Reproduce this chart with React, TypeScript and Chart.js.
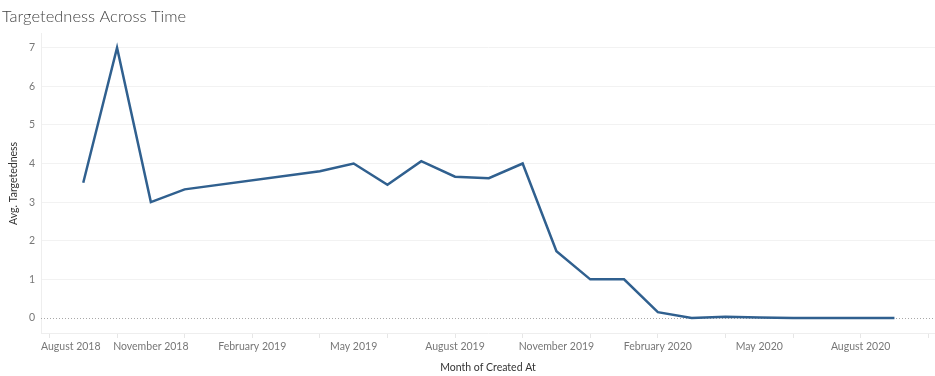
import React, { useEffect, useRef } from "react";
import { Chart, registerables } from "chart.js";

Chart.register(...registerables);

// Month index 0 = August 2018
const FIRST_YEAR = 2018;
const FIRST_MONTH = 8;

const months = [
  "2018-09", "2018-10", "2018-11", "2018-12",
  "2019-04", "2019-05", "2019-06", "2019-07", "2019-08", "2019-09", "2019-10", "2019-11", "2019-12",
  "2020-01", "2020-02", "2020-03", "2020-04", "2020-05", "2020-06", "2020-07", "2020-08", "2020-09",
];
const avgTargetedness = [
  3.5, 7.0, 3.0, 3.33,
  3.8, 4.0, 3.45, 4.06, 3.66, 3.62, 4.0, 1.73, 1.0,
  1.0, 0.15, 0.0, 0.03, 0.01, 0.0, 0.0, 0.0, 0.0,
];

const xLabelMonths = ["2018-08", "2018-11", "2019-02", "2019-05", "2019-08", "2019-11", "2020-02", "2020-05", "2020-08"];
const xTickLabels = [
  "August 2018", "November 2018", "February 2019", "May 2019", "August 2019",
  "November 2019", "February 2020", "May 2020", "August 2020",
];
const yTicks = [0, 1, 2, 3, 4, 5, 6, 7];

const X_MIN = -0.25;
const X_MAX = 26.2;
const Y_MIN = -0.39;
const Y_MAX = 7.36;

const FONT = "Lato, 'Open Sans', sans-serif";

function monthIndex(s: string): number {
  const [y, m] = s.split("-").map(Number);
  return (y - FIRST_YEAR) * 12 + (m - FIRST_MONTH);
}

const labelByIndex: Record<number, string> = {};
xLabelMonths.forEach((m, i) => {
  labelByIndex[monthIndex(m)] = xTickLabels[i];
});

const zeroLinePlugin = {
  id: "zeroLine",
  beforeDatasetsDraw(chart: any) {
    const { ctx, chartArea, scales } = chart;
    const y = Math.round(scales.y.getPixelForValue(0)) + 0.5;
    ctx.save();
    ctx.strokeStyle = "#a8a8a8";
    ctx.lineWidth = 1;
    ctx.setLineDash([1, 2]);
    ctx.beginPath();
    ctx.moveTo(chartArea.left, y);
    ctx.lineTo(chartArea.right, y);
    ctx.stroke();
    ctx.restore();
  },
};

export default function App() {
  const canvasRef = useRef<HTMLCanvasElement | null>(null);

  useEffect(() => {
    if (!canvasRef.current) return;
    const points = months.map((m, i) => ({ x: monthIndex(m), y: avgTargetedness[i] }));
    const chart = new Chart(canvasRef.current, {
      type: "line",
      data: {
        datasets: [
          {
            label: "Avg. Targetedness",
            data: points,
            borderColor: "#30608f",
            borderWidth: 2.5,
            pointRadius: 0,
            tension: 0,
            fill: false,
          },
        ],
      },
      options: {
        animation: false,
        responsive: false,
        layout: { padding: { left: 2, top: 2, right: 0, bottom: 2 } },
        plugins: {
          legend: { display: false },
          tooltip: { enabled: false },
          title: {
            display: true,
            text: "Targetedness Across Time",
            align: "start",
            color: "#444",
            font: { family: FONT, size: 16.5, weight: "300" },
            padding: { top: 5, bottom: 7 },
          },
        },
        scales: {
          x: {
            type: "linear",
            min: X_MIN,
            max: X_MAX,
            afterBuildTicks(scale: any) {
              const t = [{ value: X_MIN }];
              for (let i = 0; i <= 26; i++) t.push({ value: i });
              scale.ticks = t;
            },
            afterFit(scale: any) {
              scale.height = 41;
            },
            ticks: {
              autoSkip: false,
              maxRotation: 0,
              align: "inner",
              padding: 2,
              color: "#777",
              font: { family: FONT, size: 10.5 },
              callback: (v: any) => {
                if (v === X_MIN) return labelByIndex[0];
                if (v === 0) return "";
                return labelByIndex[v] ?? "";
              },
            },
            grid: {
              drawOnChartArea: false,
              drawTicks: true,
              tickLength: 5,
              tickColor: (ctx: any) =>
                ctx.tick && Number.isInteger(ctx.tick.value) && ctx.tick.value % 2 === 0 ? "#e6e6e6" : "rgba(0,0,0,0)",
            },
            border: { display: true, color: "#eeeeee" },
            title: {
              display: true,
              text: "Month of Created At",
              color: "#333",
              font: { family: FONT, size: 10.5 },
              padding: { top: 4, bottom: 0 },
            },
          },
          y: {
            type: "linear",
            min: Y_MIN,
            max: Y_MAX,
            afterBuildTicks(scale: any) {
              scale.ticks = yTicks.map((v) => ({ value: v }));
            },
            afterFit(scale: any) {
              scale.width = 39;
            },
            ticks: {
              padding: 6,
              color: "#777",
              font: { family: FONT, size: 10.5 },
            },
            grid: {
              drawTicks: false,
              color: (ctx: any) => (ctx.tick && ctx.tick.value === 0 ? "rgba(0,0,0,0)" : "#f2f2f2"),
            },
            border: { display: true, color: "#eeeeee" },
            title: {
              display: true,
              text: "Avg. Targetedness",
              color: "#333",
              font: { family: FONT, size: 10.5 },
              padding: { top: 5, bottom: 0 },
            },
          },
        },
      },
      plugins: [zeroLinePlugin],
    } as any);
    return () => chart.destroy();
  }, []);

  return (
    <div style={{ position: "fixed", left: 0, top: 0, width: 935, height: 376, background: "#fff" }}>
      <canvas ref={canvasRef} width={935} height={376} />
    </div>
  );
}
